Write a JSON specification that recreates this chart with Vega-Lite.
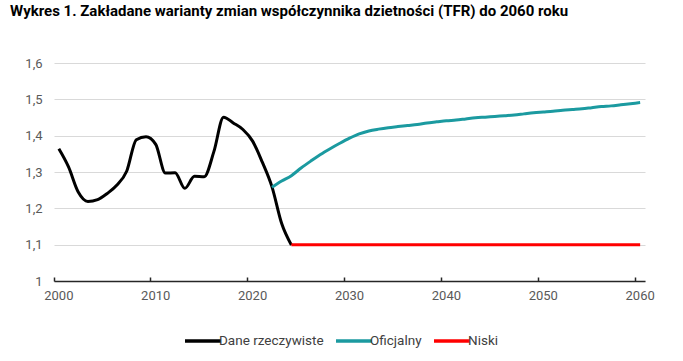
{
  "$schema": "https://vega.github.io/schema/vega-lite/v6.json",
  "width": 591,
  "height": 218,
  "autosize": {"type": "none"},
  "padding": {"left": 54, "top": 63, "right": 38, "bottom": 80},
  "background": "#ffffff",
  "title": {
    "text": "Wykres 1. Zakładane warianty zmian współczynnika dzietności (TFR) do 2060 roku",
    "anchor": "start",
    "frame": "group",
    "dx": -44,
    "offset": 38,
    "font": "Roboto",
    "fontSize": 15,
    "fontWeight": "bold",
    "color": "#000000"
  },
  "config": {
    "view": {"stroke": null},
    "font": "Roboto"
  },
  "data": {
    "values": [
      {"year": 2000, "series": "Dane rzeczywiste", "value": 1.364},
      {"year": 2001, "series": "Dane rzeczywiste", "value": 1.314},
      {"year": 2002, "series": "Dane rzeczywiste", "value": 1.245},
      {"year": 2003, "series": "Dane rzeczywiste", "value": 1.219},
      {"year": 2004, "series": "Dane rzeczywiste", "value": 1.224},
      {"year": 2005, "series": "Dane rzeczywiste", "value": 1.241},
      {"year": 2006, "series": "Dane rzeczywiste", "value": 1.264},
      {"year": 2007, "series": "Dane rzeczywiste", "value": 1.302},
      {"year": 2008, "series": "Dane rzeczywiste", "value": 1.389},
      {"year": 2009, "series": "Dane rzeczywiste", "value": 1.397},
      {"year": 2010, "series": "Dane rzeczywiste", "value": 1.376},
      {"year": 2011, "series": "Dane rzeczywiste", "value": 1.297},
      {"year": 2012, "series": "Dane rzeczywiste", "value": 1.298},
      {"year": 2013, "series": "Dane rzeczywiste", "value": 1.255},
      {"year": 2014, "series": "Dane rzeczywiste", "value": 1.288},
      {"year": 2015, "series": "Dane rzeczywiste", "value": 1.287},
      {"year": 2016, "series": "Dane rzeczywiste", "value": 1.356},
      {"year": 2017, "series": "Dane rzeczywiste", "value": 1.451},
      {"year": 2018, "series": "Dane rzeczywiste", "value": 1.435},
      {"year": 2019, "series": "Dane rzeczywiste", "value": 1.417},
      {"year": 2020, "series": "Dane rzeczywiste", "value": 1.385},
      {"year": 2021, "series": "Dane rzeczywiste", "value": 1.327},
      {"year": 2022, "series": "Dane rzeczywiste", "value": 1.259},
      {"year": 2023, "series": "Dane rzeczywiste", "value": 1.158},
      {"year": 2024, "series": "Dane rzeczywiste", "value": 1.099},
      {"year": 2022, "series": "Oficjalny", "value": 1.258},
      {"year": 2023, "series": "Oficjalny", "value": 1.275},
      {"year": 2024, "series": "Oficjalny", "value": 1.290},
      {"year": 2025, "series": "Oficjalny", "value": 1.311},
      {"year": 2026, "series": "Oficjalny", "value": 1.330},
      {"year": 2027, "series": "Oficjalny", "value": 1.348},
      {"year": 2028, "series": "Oficjalny", "value": 1.364},
      {"year": 2029, "series": "Oficjalny", "value": 1.379},
      {"year": 2030, "series": "Oficjalny", "value": 1.393},
      {"year": 2031, "series": "Oficjalny", "value": 1.405},
      {"year": 2032, "series": "Oficjalny", "value": 1.413},
      {"year": 2033, "series": "Oficjalny", "value": 1.418},
      {"year": 2034, "series": "Oficjalny", "value": 1.422},
      {"year": 2035, "series": "Oficjalny", "value": 1.425},
      {"year": 2036, "series": "Oficjalny", "value": 1.428},
      {"year": 2037, "series": "Oficjalny", "value": 1.431},
      {"year": 2038, "series": "Oficjalny", "value": 1.435},
      {"year": 2039, "series": "Oficjalny", "value": 1.438},
      {"year": 2040, "series": "Oficjalny", "value": 1.441},
      {"year": 2041, "series": "Oficjalny", "value": 1.443},
      {"year": 2042, "series": "Oficjalny", "value": 1.446},
      {"year": 2043, "series": "Oficjalny", "value": 1.449},
      {"year": 2044, "series": "Oficjalny", "value": 1.451},
      {"year": 2045, "series": "Oficjalny", "value": 1.453},
      {"year": 2046, "series": "Oficjalny", "value": 1.455},
      {"year": 2047, "series": "Oficjalny", "value": 1.457},
      {"year": 2048, "series": "Oficjalny", "value": 1.460},
      {"year": 2049, "series": "Oficjalny", "value": 1.463},
      {"year": 2050, "series": "Oficjalny", "value": 1.465},
      {"year": 2051, "series": "Oficjalny", "value": 1.467},
      {"year": 2052, "series": "Oficjalny", "value": 1.470},
      {"year": 2053, "series": "Oficjalny", "value": 1.472},
      {"year": 2054, "series": "Oficjalny", "value": 1.474},
      {"year": 2055, "series": "Oficjalny", "value": 1.477},
      {"year": 2056, "series": "Oficjalny", "value": 1.480},
      {"year": 2057, "series": "Oficjalny", "value": 1.482},
      {"year": 2058, "series": "Oficjalny", "value": 1.485},
      {"year": 2059, "series": "Oficjalny", "value": 1.488},
      {"year": 2060, "series": "Oficjalny", "value": 1.491},
      {"year": 2024, "series": "Niski", "value": 1.1},
      {"year": 2025, "series": "Niski", "value": 1.1},
      {"year": 2026, "series": "Niski", "value": 1.1},
      {"year": 2027, "series": "Niski", "value": 1.1},
      {"year": 2028, "series": "Niski", "value": 1.1},
      {"year": 2029, "series": "Niski", "value": 1.1},
      {"year": 2030, "series": "Niski", "value": 1.1},
      {"year": 2031, "series": "Niski", "value": 1.1},
      {"year": 2032, "series": "Niski", "value": 1.1},
      {"year": 2033, "series": "Niski", "value": 1.1},
      {"year": 2034, "series": "Niski", "value": 1.1},
      {"year": 2035, "series": "Niski", "value": 1.1},
      {"year": 2036, "series": "Niski", "value": 1.1},
      {"year": 2037, "series": "Niski", "value": 1.1},
      {"year": 2038, "series": "Niski", "value": 1.1},
      {"year": 2039, "series": "Niski", "value": 1.1},
      {"year": 2040, "series": "Niski", "value": 1.1},
      {"year": 2041, "series": "Niski", "value": 1.1},
      {"year": 2042, "series": "Niski", "value": 1.1},
      {"year": 2043, "series": "Niski", "value": 1.1},
      {"year": 2044, "series": "Niski", "value": 1.1},
      {"year": 2045, "series": "Niski", "value": 1.1},
      {"year": 2046, "series": "Niski", "value": 1.1},
      {"year": 2047, "series": "Niski", "value": 1.1},
      {"year": 2048, "series": "Niski", "value": 1.1},
      {"year": 2049, "series": "Niski", "value": 1.1},
      {"year": 2050, "series": "Niski", "value": 1.1},
      {"year": 2051, "series": "Niski", "value": 1.1},
      {"year": 2052, "series": "Niski", "value": 1.1},
      {"year": 2053, "series": "Niski", "value": 1.1},
      {"year": 2054, "series": "Niski", "value": 1.1},
      {"year": 2055, "series": "Niski", "value": 1.1},
      {"year": 2056, "series": "Niski", "value": 1.1},
      {"year": 2057, "series": "Niski", "value": 1.1},
      {"year": 2058, "series": "Niski", "value": 1.1},
      {"year": 2059, "series": "Niski", "value": 1.1},
      {"year": 2060, "series": "Niski", "value": 1.1}
    ]
  },
  "mark": {"type": "line", "strokeWidth": 3, "interpolate": "monotone", "strokeCap": "butt"},
  "encoding": {
    "x": {
      "field": "year",
      "type": "ordinal",
      "scale": {"type": "band", "paddingInner": 0, "paddingOuter": 0},
      "axis": {
        "title": null,
        "values": [2000, 2010, 2020, 2030, 2040, 2050, 2060],
        "bandPosition": 0,
        "labelAngle": 0,
        "grid": false,
        "domainColor": "#262626",
        "domainWidth": 1.5,
        "tickColor": "#262626",
        "tickWidth": 1.5,
        "tickSize": -4,
        "labelPadding": 12,
        "labelFont": "Roboto",
        "labelFontSize": 13,
        "labelColor": "#595959"
      }
    },
    "y": {
      "field": "value",
      "type": "quantitative",
      "scale": {"domain": [1, 1.6], "nice": false, "zero": false},
      "axis": {
        "title": null,
        "values": [1, 1.1, 1.2, 1.3, 1.4, 1.5, 1.6],
        "labelExpr": "replace(format(datum.value, '~g'), '.', ',')",
        "domain": false,
        "ticks": false,
        "grid": true,
        "gridColor": "#d9d9d9",
        "gridWidth": 1,
        "labelPadding": 12,
        "labelFont": "Roboto",
        "labelFontSize": 13,
        "labelColor": "#595959"
      }
    },
    "color": {
      "field": "series",
      "type": "nominal",
      "scale": {
        "domain": ["Dane rzeczywiste", "Oficjalny", "Niski"],
        "range": ["#000000", "#1b9aa0", "#ff0000"]
      },
      "legend": {
        "title": null,
        "orient": "none",
        "legendX": 129,
        "legendY": 258,
        "padding": 0,
        "direction": "horizontal",
        "symbolType": "stroke",
        "symbolSize": 1296,
        "symbolStrokeWidth": 3.5,
        "labelFont": "Roboto",
        "labelFontSize": 13.5,
        "labelColor": "#404040",
        "labelOffset": -4,
        "columnPadding": 5
      }
    },
    "order": {"field": "year", "type": "quantitative"}
  }
}
